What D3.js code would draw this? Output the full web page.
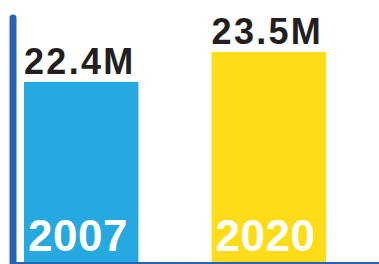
<!DOCTYPE html>
<html>
<head>
<meta charset="utf-8">
<script src="https://cdn.jsdelivr.net/npm/d3@7"></script>
<style>
  html, body { margin: 0; padding: 0; background: #fff; }
  svg { display: block; }
</style>
</head>
<body>
<div class="chart"></div>
<script>
var years = ['2007', '2020'];
var values = [22.4, 23.5];
var valueLabels = ['22.4M', '23.5M'];
var colors = ['#26a8e0', '#fedc17'];

var width = 379;
var height = 264;
var baseY = 262;

var svg = d3.select('.chart')
    .append('svg')
    .attr('width', width)
    .attr('height', height);

var x = d3.scaleBand()
    .domain(years)
    .range([24, 326])
    .paddingInner(0.39)
    .paddingOuter(0);

var y = d3.scaleLinear()
    .domain([15.8, 25])
    .range([baseY, 11]);

var bars = svg.selectAll('.bar')
    .data(values)
    .enter()
    .append('g')
    .attr('class', 'bar');

bars.append('rect')
    .attr('x', function(d, i) { return x(years[i]); })
    .attr('y', function(d) { return y(d); })
    .attr('width', x.bandwidth())
    .attr('height', function(d) { return baseY - y(d); })
    .attr('fill', function(d, i) { return colors[i]; });

// value labels above bars
bars.append('text')
    .attr('x', function(d, i) { return x(years[i]) + 0; })
    .attr('y', function(d) { return y(d) - 8; })
    .attr('font-family', 'Liberation Sans, Arial, sans-serif')
    .attr('font-weight', 'bold')
    .attr('font-size', 36)
    .attr('letter-spacing', 2.3)
    .attr('fill', '#231f20')
    .text(function(d, i) { return valueLabels[i]; });

// year labels inside bars
bars.append('text')
    .attr('x', function(d, i) { return x(years[i]) + 4; })
    .attr('y', 251)
    .attr('font-family', 'Liberation Sans, Arial, sans-serif')
    .attr('font-weight', 'bold')
    .attr('font-size', 44)
    .attr('letter-spacing', 0.5)
    .attr('fill', '#fff')
    .text(function(d, i) { return years[i]; });

// baseline
svg.append('line')
    .attr('x1', 10)
    .attr('x2', width)
    .attr('y1', baseY + 1)
    .attr('y2', baseY + 1)
    .attr('stroke', '#2a63b0')
    .attr('stroke-width', 2);

// left axis
svg.append('line')
    .attr('x1', 13)
    .attr('x2', 13)
    .attr('y1', 18)
    .attr('y2', height)
    .attr('stroke', '#2a63b0')
    .attr('stroke-width', 7)
    .attr('stroke-linecap', 'round');
</script>
</body>
</html>
